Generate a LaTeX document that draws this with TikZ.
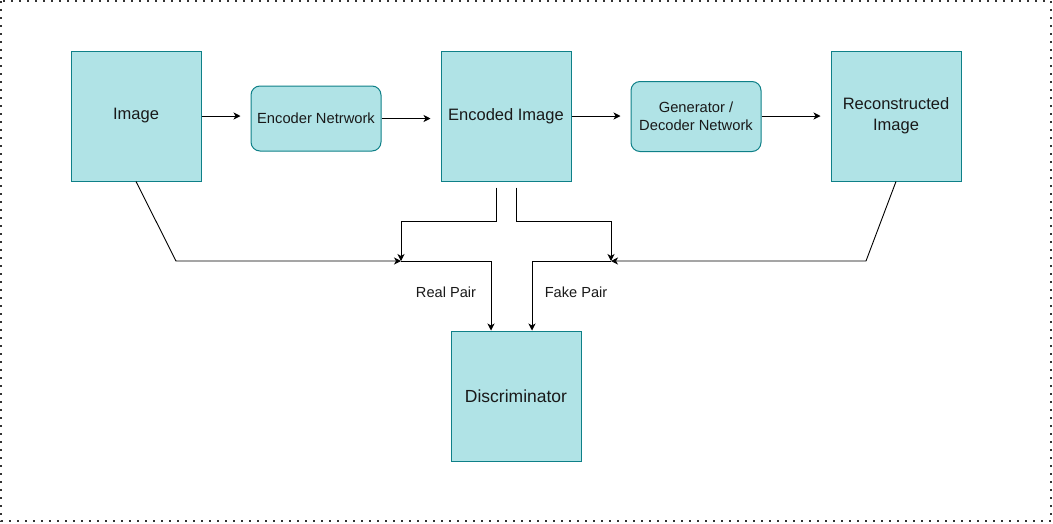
\documentclass[tikz,border=0pt]{standalone}
\usepackage{fontspec}
\setmainfont{Liberation Sans}
\usetikzlibrary{arrows.meta, positioning}
\definecolor{boxfill}{HTML}{B0E3E6}
\definecolor{boxline}{HTML}{0E8088}
\begin{document}
\begin{tikzpicture}[
  x=1pt, y=-1pt,
  bigbox/.style={rectangle, draw=boxline, fill=boxfill, line width=1pt, minimum width=130pt, minimum height=130pt, align=center, font=\fontsize{16.5}{21}\selectfont, text=black!90, inner sep=2pt},
  netbox/.style={rectangle, draw=boxline, fill=boxfill, line width=1pt, rounded corners=9pt, minimum width=130pt, align=center, font=\fontsize{14.7}{18}\selectfont, text=black!90, inner sep=2pt},
  arrow/.style={-{Stealth[length=7pt, width=7pt, inset=2pt]}, line width=0.9pt, draw=black},
  lbl/.style={font=\fontsize{14.6}{18}\selectfont, text=black!90}
]
  \useasboundingbox (0,0) rectangle (1053,523);
  \draw[black!80, line width=1.6pt, dash pattern=on 1.6pt off 6.4pt] (1,1) rectangle (1051,521);

  \node[bigbox] (img) at (136,116) {Image};
  \node[bigbox, right=239pt of img] (encd) {Encoded Image};
  \node[bigbox, right=259pt of encd] (rec) {Reconstructed\\Image};
  \node[netbox, minimum height=65pt, right=49pt of img, yshift=-2.5pt] (enc) {Encoder Netrwork};
  \node[netbox, minimum height=70pt, right=59pt of encd, yshift=-0.5pt] (gen) {Generator /\\Decoder Network};
  \node[bigbox, font=\fontsize{17.5}{21}\selectfont, below=149pt of encd, xshift=10pt] (disc) {Discriminator};

  % junctions where the pairs meet
  \coordinate (rj) at (401,261);
  \coordinate (fj) at (611,261);
  \coordinate (imgbend) at (176,261);
  \coordinate (recbend) at (866,261);

  % top row
  \draw[arrow, shorten >=10pt] (img.east) -- (enc.west |- img.east);
  \draw[arrow, shorten >=10pt] (enc.east) -- (enc.east -| encd.west);
  \draw[arrow, shorten >=10pt] (encd.east) -- (gen.west |- encd.east);
  \draw[arrow, shorten >=10pt] (gen.east |- encd.east) -- (rec.west |- encd.east);

  % pairs
  \draw[arrow] (img.south) -- (imgbend) -- (rj);
  \draw[arrow] ([xshift=-10pt, yshift=-6pt]encd.south) -- ++(0,34) -| (rj);
  \draw[arrow] ([xshift=10pt, yshift=-6pt]encd.south) -- ++(0,34) -| (fj);
  \draw[arrow] (rec.south) -- (recbend) -- (fj);

  % into the discriminator
  \draw[arrow] (rj) -| ([xshift=-25pt]disc.north);
  \draw[arrow] (fj) -| ([xshift=16pt]disc.north);
  \node[lbl] (real) at (446,292) {Real Pair};
  \node[lbl] (fake) at (576,292) {Fake Pair};
\end{tikzpicture}
\end{document}
